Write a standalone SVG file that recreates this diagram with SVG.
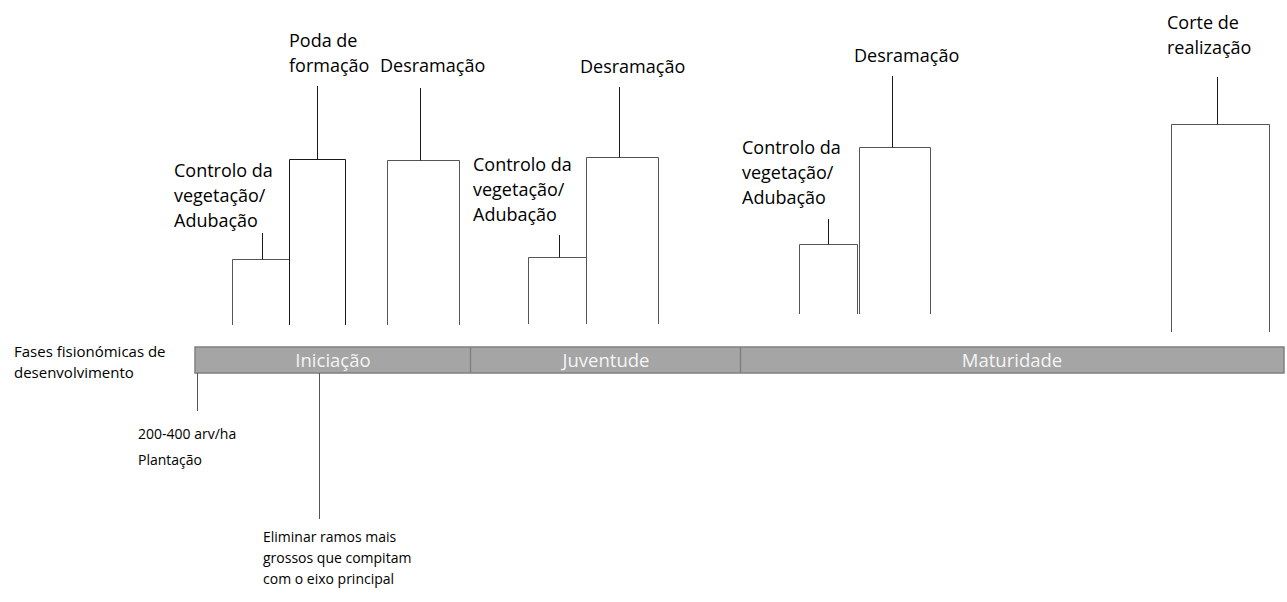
<svg xmlns="http://www.w3.org/2000/svg" width="1287" height="602" viewBox="0 0 1287 602">
<style>
.lbl{font-family:"Open Sans","Noto Sans",sans-serif;font-size:18px;fill:#000}
.sm{font-family:"Open Sans","Noto Sans",sans-serif;font-size:14px;fill:#000}
.fs{font-family:"Open Sans","Noto Sans",sans-serif;font-size:15px;fill:#000}
.bar{font-family:"Open Sans","Noto Sans",sans-serif;font-size:18.5px;fill:#f4f4f4;text-anchor:middle}
.ln{stroke:#1a1a1a;stroke-width:1;fill:none}
.gl{stroke:#555;stroke-width:1;fill:none}
</style>
<rect width="1287" height="602" fill="#fff"/>
<g id="phases">
<rect x="195" y="347" width="1089" height="26" fill="#a5a5a5" stroke="#808080" stroke-width="1.5"/>
<line x1="470.5" y1="347" x2="470.5" y2="373" stroke="#808080" stroke-width="1.5"/>
<line x1="740.5" y1="347" x2="740.5" y2="373" stroke="#808080" stroke-width="1.5"/>
<text class="bar" x="333" y="367">Iniciação</text>
<text class="bar" x="606" y="367">Juventude</text>
<text class="bar" x="1012" y="367">Maturidade</text>
</g>
<g id="phase-label">
<text class="fs" x="14" y="357">Fases fisionómicas de</text>
<text class="fs" x="14" y="378">desenvolvimento</text>
</g>
<g id="plantacao">
<text class="sm" x="138" y="439">200-400 arv/ha</text>
<text class="sm" x="138" y="465">Plantação</text>
</g>
<g id="eliminar">
<text class="sm" x="263" y="542">Eliminar ramos mais</text>
<text class="sm" x="263" y="563">grossos que compitam</text>
<text class="sm" x="263" y="584">com o eixo principal</text>
</g>
<g id="c1-controlo">
<text class="lbl" x="174" y="177">Controlo da</text>
<text class="lbl" x="174" y="202">vegetação/</text>
<text class="lbl" x="174" y="227">Adubação</text>
</g>
<g id="c1-poda">
<text class="lbl" x="289" y="47">Poda de</text>
<text class="lbl" x="289" y="72">formação</text>
</g>
<g id="c1-desramacao">
<text class="lbl" x="380" y="72">Desramação</text>
</g>
<g id="c2-controlo">
<text class="lbl" x="473" y="171">Controlo da</text>
<text class="lbl" x="473" y="196">vegetação/</text>
<text class="lbl" x="473" y="221">Adubação</text>
</g>
<g id="c2-desramacao">
<text class="lbl" x="580" y="73">Desramação</text>
</g>
<g id="c3-controlo">
<text class="lbl" x="742" y="154">Controlo da</text>
<text class="lbl" x="742" y="179">vegetação/</text>
<text class="lbl" x="742" y="204">Adubação</text>
</g>
<g id="c3-desramacao">
<text class="lbl" x="854" y="62">Desramação</text>
</g>
<g id="c4-corte">
<text class="lbl" x="1167" y="29">Corte de</text>
<text class="lbl" x="1167" y="54">realização</text>
</g>
<g id="connectors">
<path class="gl" d="M232.5,325 V259.5 H289.5"/>
<path class="ln" d="M262.5,233 V259.5"/>
<path class="ln" d="M289.5,325 V159.5 H345.5 V325"/>
<path class="ln" d="M317.5,86 V159.5"/>
<path class="gl" d="M387.5,325 V160.5 H459.5 V325"/>
<path class="ln" d="M420.5,88 V160.5"/>
<path class="gl" d="M528.5,324 V257.5 H586.5"/>
<path class="ln" d="M559.5,235 V257.5"/>
<path class="gl" d="M586.5,324 V157.5 H658.5 V324"/>
<path class="ln" d="M619.5,87 V157.5"/>
<path class="gl" d="M799.5,314 V244.5 H857.5 V314"/>
<path class="ln" d="M828.5,219 V244.5"/>
<path class="gl" d="M859.5,314 V147.5 H930.5 V314"/>
<path class="ln" d="M892.5,76 V147.5"/>
<path class="gl" d="M1171.5,332 V124.5 H1269.5 V332"/>
<path class="ln" d="M1217.5,77 V124.5"/>
<path class="gl" d="M197.5,373 V411"/>
<path class="gl" d="M319.5,373 V519"/>
</g>
</svg>
